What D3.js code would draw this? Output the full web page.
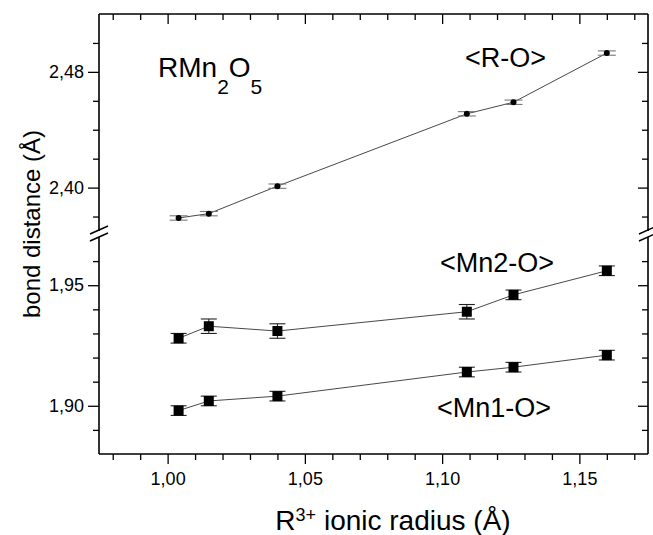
<!DOCTYPE html>
<html>
<head>
<meta charset="utf-8">
<script src="https://cdn.jsdelivr.net/npm/d3@7"></script>
<style>
  html, body { margin: 0; padding: 0; background: #fff; }
  svg { display: block; font-family: "Liberation Sans", Arial, Helvetica, sans-serif; }
</style>
</head>
<body>
<svg id="chart" width="653" height="535"></svg>
<script>
// ---- data ----
const radius     = [1.004, 1.015, 1.040, 1.109, 1.126, 1.160];
const roValues   = [2.379, 2.382, 2.401, 2.451, 2.459, 2.493];
const roErrors   = [0.0015, 0.0015, 0.0015, 0.0015, 0.0015, 0.0015];
const mn2Values  = [1.928, 1.933, 1.931, 1.939, 1.946, 1.956];
const mn2Errors  = [0.002, 0.003, 0.003, 0.003, 0.002, 0.002];
const mn1Values  = [1.898, 1.902, 1.904, 1.914, 1.916, 1.921];
const mn1Errors  = [0.002, 0.002, 0.002, 0.002, 0.002, 0.002];

const xMajorTicks    = [1.00, 1.05, 1.10, 1.15];
const xMinorTicks    = [0.98, 0.99, 1.01, 1.02, 1.03, 1.04, 1.06, 1.07, 1.08, 1.09, 1.11, 1.12, 1.13, 1.14, 1.16, 1.17];
const yTopMajorTicks = [2.40, 2.48];
const yTopMinorTicks = [2.38, 2.42, 2.44, 2.46, 2.50];
const yBotMajorTicks = [1.90, 1.95];
const yBotMinorTicks = [1.89, 1.91, 1.92, 1.93, 1.94, 1.96];

const seriesLabels = ["<R-O>", "<Mn2-O>", "<Mn1-O>"];
const xTitle = ["R", "3+", " ionic radius (Å)"];
const yTitle = "bond distance (Å)";

// ---- scales ----
const x    = d3.scaleLinear().domain([0.975, 1.175]).range([99, 648]);
const yTop = d3.scaleLinear().domain([2.37, 2.52]).range([231, 14]);
const yBot = d3.scaleLinear().domain([1.88, 1.97]).range([454, 237]);

const loc = d3.formatLocale({decimal: ",", thousands: ".", grouping: [3], currency: ["", ""]});
const fmt = loc.format(".2f");

const svg = d3.select("#chart");
const X0 = x.range()[0], X1 = x.range()[1];
const YT = yTop.range()[1], YB = yBot.range()[0];

function styleAxis(g, fontSize) {
  g.select(".domain").remove();
  g.selectAll(".tick line").attr("stroke", "#000").attr("stroke-width", 1.3);
  g.selectAll(".tick text").attr("fill", "#000").style("font-size", fontSize + "px")
    .style("font-family", '"Liberation Sans", Arial, sans-serif');
}

// bottom axis
svg.append("g").attr("transform", `translate(0,${YB})`)
  .call(d3.axisBottom(x).tickValues(xMinorTicks).tickSize(6).tickFormat(""))
  .call(g => styleAxis(g, 18));
svg.append("g").attr("transform", `translate(0,${YB})`)
  .call(d3.axisBottom(x).tickValues(xMajorTicks).tickSize(10).tickPadding(8).tickFormat(fmt))
  .call(g => styleAxis(g, 18));
// top axis (inward)
svg.append("g").attr("transform", `translate(0,${YT})`)
  .call(d3.axisBottom(x).tickValues(xMinorTicks).tickSize(6).tickFormat(""))
  .call(g => styleAxis(g, 18));
svg.append("g").attr("transform", `translate(0,${YT})`)
  .call(d3.axisBottom(x).tickValues(xMajorTicks).tickSize(10).tickFormat(""))
  .call(g => styleAxis(g, 18));

// left axes
[[yTop, yTopMinorTicks, yTopMajorTicks], [yBot, yBotMinorTicks, yBotMajorTicks]].forEach(([sc, minor, major]) => {
  svg.append("g").attr("transform", `translate(${X0},0)`)
    .call(d3.axisLeft(sc).tickValues(minor).tickSize(6).tickFormat(""))
    .call(g => styleAxis(g, 18));
  svg.append("g").attr("transform", `translate(${X0},0)`)
    .call(d3.axisLeft(sc).tickValues(major).tickSize(11).tickPadding(4).tickFormat(fmt))
    .call(g => styleAxis(g, 18));
  // right (inward)
  svg.append("g").attr("transform", `translate(${X1},0)`)
    .call(d3.axisLeft(sc).tickValues(minor).tickSize(6).tickFormat(""))
    .call(g => styleAxis(g, 18));
  svg.append("g").attr("transform", `translate(${X1},0)`)
    .call(d3.axisLeft(sc).tickValues(major).tickSize(10).tickFormat(""))
    .call(g => styleAxis(g, 18));
});

// frame
const frame = svg.append("g").attr("stroke", "#000").attr("stroke-width", 1.6).attr("fill", "none");
frame.append("line").attr("x1", X0).attr("x2", X1).attr("y1", YT).attr("y2", YT);
frame.append("line").attr("x1", X0).attr("x2", X1).attr("y1", YB).attr("y2", YB);
[X0, X1].forEach(xx => {
  frame.append("line").attr("x1", xx).attr("x2", xx).attr("y1", YT).attr("y2", yTop.range()[0]);
  frame.append("line").attr("x1", xx).attr("x2", xx).attr("y1", yBot.range()[1]).attr("y2", YB);
  // break marks
  [yTop.range()[0] - 1, yBot.range()[1]].forEach(yy => {
    frame.append("line").attr("x1", xx - 9).attr("y1", yy + 4).attr("x2", xx + 9).attr("y2", yy - 4)
      .attr("stroke-width", 1.4);
  });
});

// series
function drawSeries(values, errors, sc, marker, capW, capColor) {
  const g = svg.append("g");
  const line = d3.line().x((d, i) => x(radius[i])).y(d => sc(d));
  g.append("path").datum(values).attr("d", line)
    .attr("fill", "none").attr("stroke", "#333").attr("stroke-width", 0.9);
  values.forEach((v, i) => {
    const cx = x(radius[i]);
    const yLo = sc(v - errors[i]), yHi = sc(v + errors[i]);
    g.append("line").attr("x1", cx).attr("x2", cx).attr("y1", yLo).attr("y2", yHi)
      .attr("stroke", capColor).attr("stroke-width", 1);
    [yLo, yHi].forEach(yy => g.append("line")
      .attr("x1", cx - capW / 2).attr("x2", cx + capW / 2).attr("y1", yy).attr("y2", yy)
      .attr("stroke", capColor).attr("stroke-width", 1.1));
    if (marker === "circle") {
      g.append("circle").attr("cx", cx).attr("cy", sc(v)).attr("r", 3).attr("fill", "#000");
    } else {
      g.append("rect").attr("x", cx - 5).attr("y", sc(v) - 5).attr("width", 10).attr("height", 10).attr("fill", "#000");
    }
  });
}
drawSeries(roValues, roErrors, yTop, "circle", 18, "#777");
drawSeries(mn2Values, mn2Errors, yBot, "square", 16, "#222");
drawSeries(mn1Values, mn1Errors, yBot, "square", 16, "#222");

// annotations
const ann = svg.append("g").attr("fill", "#000").style("font-size", "27px");
ann.append("text").attr("x", 465).attr("y", 67).text(seriesLabels[0]);
ann.append("text").attr("x", 440).attr("y", 272).text(seriesLabels[1]);
ann.append("text").attr("x", 437).attr("y", 417).text(seriesLabels[2]);

const formula = svg.append("text").attr("x", 158).attr("y", 77).attr("fill", "#000").style("font-size", "28px");
formula.append("tspan").text("RMn");
formula.append("tspan").attr("dy", 17).style("font-size", "21px").text("2");
formula.append("tspan").attr("dy", -17).text("O");
formula.append("tspan").attr("dy", 17).style("font-size", "21px").text("5");

// axis titles
const xt = svg.append("text").attr("x", 393).attr("y", 530).attr("text-anchor", "middle")
  .attr("fill", "#000").style("font-size", "28px");
xt.append("tspan").text(xTitle[0]);
xt.append("tspan").attr("dy", -9).style("font-size", "18px").text(xTitle[1]);
xt.append("tspan").attr("dy", 9).text(xTitle[2]);

svg.append("text").attr("transform", "translate(40,224) rotate(-90)").attr("text-anchor", "middle")
  .attr("fill", "#000").style("font-size", "24px").text(yTitle);
</script>
</body>
</html>
